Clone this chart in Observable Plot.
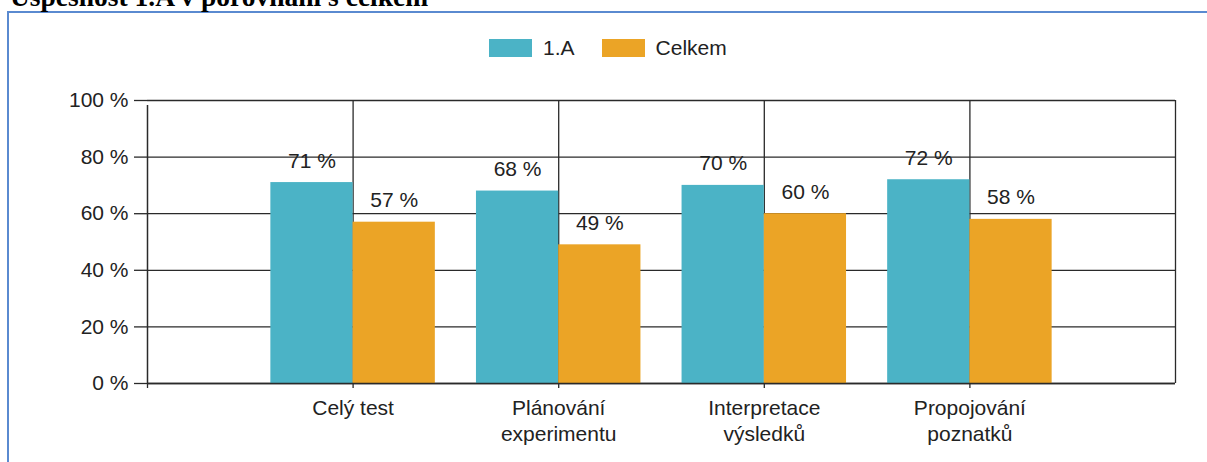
<!DOCTYPE html>
<html>
<head>
<meta charset="utf-8">
<script src="https://cdn.jsdelivr.net/npm/d3@7"></script>
<script src="https://cdn.jsdelivr.net/npm/@observablehq/plot@0.6"></script>
<style>
  html, body { margin: 0; padding: 0; background: #fff; }
  body { width: 1207px; height: 462px; position: relative; overflow: hidden; font-family: "Liberation Sans", Arial, sans-serif; }
  #title { position: absolute; left: 10px; top: -16px; font-family: "Liberation Serif", "Times New Roman", serif; font-weight: bold; font-size: 27.5px; line-height: 26px; color: #000; white-space: nowrap; }
  #frame { position: absolute; left: 7px; top: 11px; width: 1300px; height: 600px; border-left: 2px solid #5a8ad0; border-top: 2px solid #5a8ad0; box-sizing: border-box; }
  #chart { position: absolute; left: 0; top: 0; }
  #legend { position: absolute; top: 39px; left: 489px; display: flex; align-items: center; font-size: 21px; color: #222; }
  .sw { width: 43px; height: 18px; display: inline-block; }
  .lab { margin-left: 11px; margin-right: 27px; line-height: 18px; }
</style>
</head>
<body>
<div id="frame"></div>
<div id="title">Úspěšnost 1.A v porovnání s celkem</div>
<div id="chart"></div>
<div id="legend"></div>
<script>
const categories = ["Celý test", "Plánování\nexperimentu", "Interpretace\nvýsledků", "Propojování\npoznatků"];
const seriesNames = ["1.A", "Celkem"];
const values1A = [71, 68, 70, 72];
const valuesCelkem = [57, 49, 60, 58];
const yTicks = [0, 20, 40, 60, 80, 100];
const colors = ["#4bb3c6", "#eba426"];

const rows = [];
categories.forEach((c, i) => {
  rows.push({cat: c, pos: i + 1, series: seriesNames[0], value: values1A[i], x1: i + 0.6, x2: i + 1});
  rows.push({cat: c, pos: i + 1, series: seriesNames[1], value: valuesCelkem[i], x1: i + 1, x2: i + 1.4});
});

const lineColor = "#2a2a2a";
const chart = Plot.plot({
  width: 1207,
  height: 462,
  marginLeft: 147,
  marginRight: 32,
  marginTop: 100,
  marginBottom: 79,
  style: {fontFamily: "Liberation Sans, Arial, sans-serif", fontSize: "21px", color: "#222", background: "transparent"},
  x: {domain: [0, categories.length + 1], axis: null},
  y: {domain: [0, 100], axis: null},
  color: {domain: seriesNames, range: colors},
  marks: [
    Plot.ruleY(yTicks, {x1: 0, x2: categories.length + 1, stroke: lineColor, strokeWidth: 1.3}),
    Plot.ruleX(d3.range(1, categories.length + 2), {y1: 0, y2: 100, stroke: lineColor, strokeWidth: 1.3}),
    Plot.rectY(rows, {x1: "x1", x2: "x2", y: "value", fill: "series"}),
    Plot.ruleY([0], {x1: 0, x2: categories.length + 1, stroke: lineColor, strokeWidth: 1.5}),
    Plot.ruleX([0], {y1: 0, y2: 100, stroke: lineColor, strokeWidth: 1.5, insetBottom: -5}),
    Plot.axisY({ticks: yTicks, tickSize: 13, tickPadding: 6, tickFormat: d => d + " %", stroke: lineColor, strokeWidth: 1.3, fill: "#222", fontSize: 21, label: null}),
    Plot.axisX({ticks: d3.range(0, categories.length + 1), tickSize: 5, tickPadding: 9, tickFormat: d => d === 0 ? "" : categories[d - 1], stroke: lineColor, strokeWidth: 1.3, fill: "#222", fontSize: 21, lineHeight: 1.2, label: null}),
    Plot.text(rows, {x: d => (d.x1 + d.x2) / 2, y: "value", text: d => d.value + " %", lineAnchor: "bottom", dy: -15, fill: "#222", fontSize: 21})
  ]
});
document.getElementById("chart").appendChild(chart);

const legend = document.getElementById("legend");
seriesNames.forEach((s, i) => {
  const sw = document.createElement("span");
  sw.className = "sw";
  sw.style.background = colors[i];
  const lb = document.createElement("span");
  lb.className = "lab";
  lb.textContent = s;
  legend.appendChild(sw);
  legend.appendChild(lb);
});
</script>
</body>
</html>
